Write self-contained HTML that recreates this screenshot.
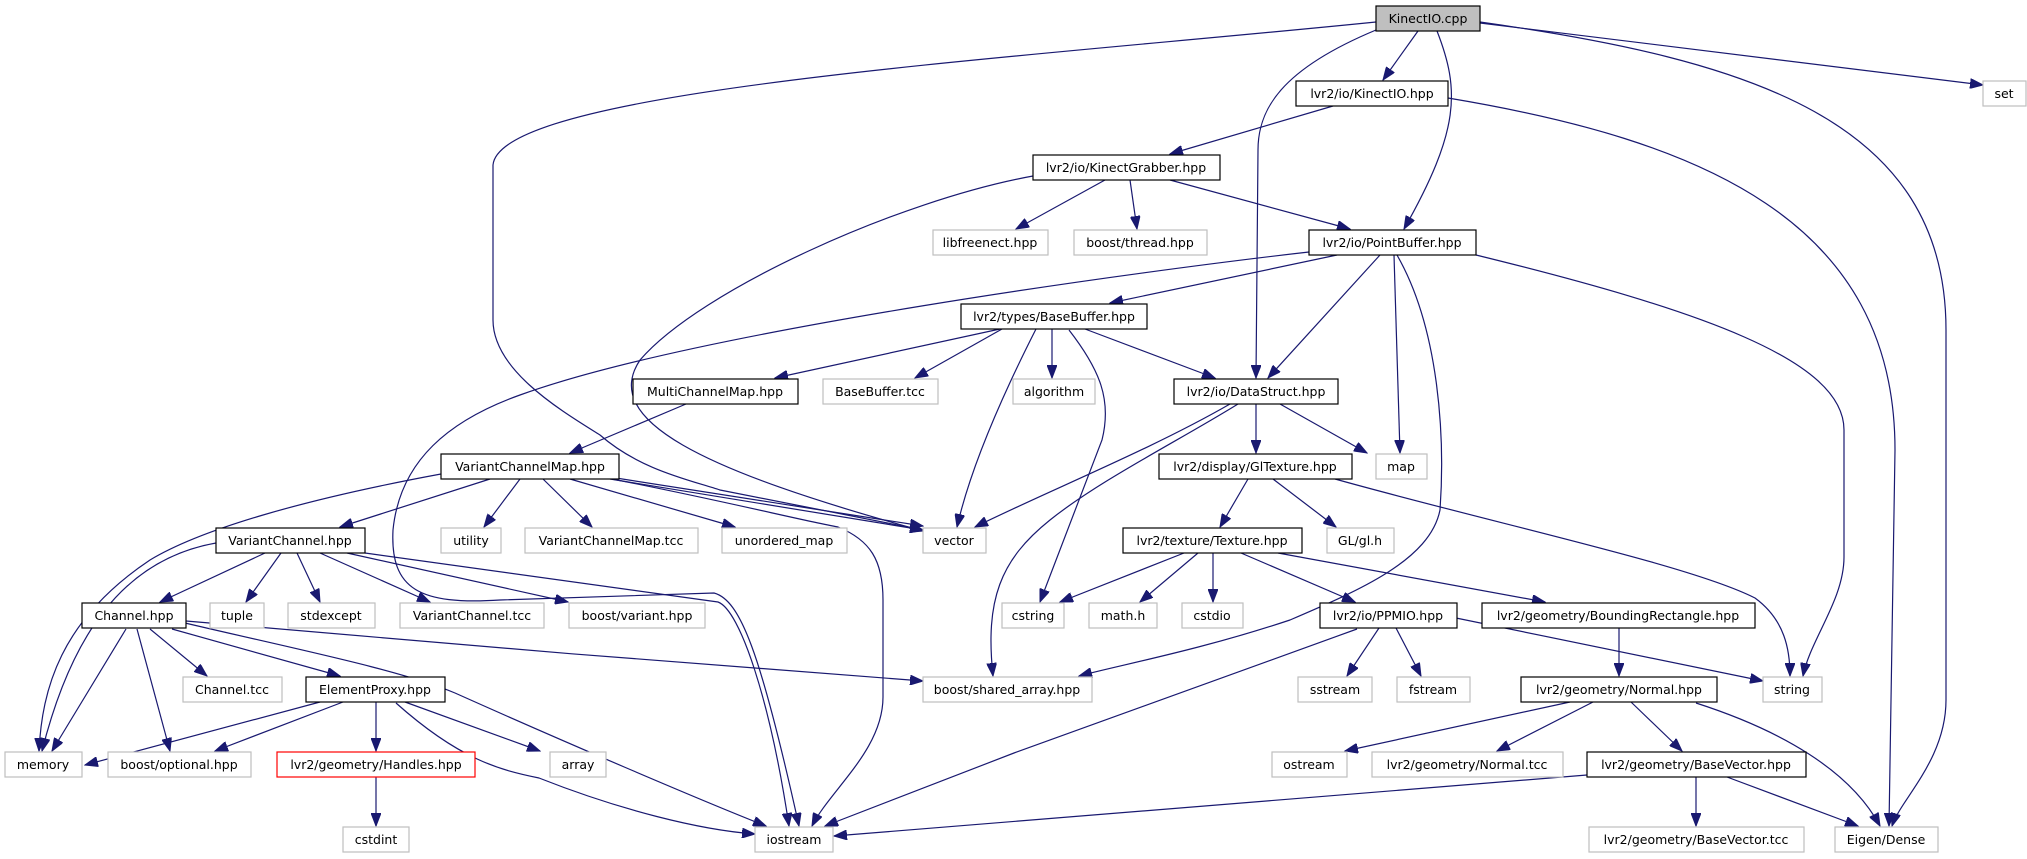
<!DOCTYPE html>
<html><head><meta charset="utf-8"><style>
html,body{margin:0;padding:0;background:#fff;}
svg{display:block;}
text{font-family:"DejaVu Sans","Liberation Sans",sans-serif;font-size:12.5px;fill:#000;text-anchor:middle;}
.n rect{fill:#fff;stroke:#000;stroke-width:1.2;}
.g rect{fill:#fff;stroke:#bfbfbf;stroke-width:1.2;}
.e path{fill:none;stroke:#191970;stroke-width:1.2;marker-end:url(#a);}
</style></head><body>
<svg width="2027" height="859" viewBox="0 0 2027 859" xmlns="http://www.w3.org/2000/svg">
<defs><marker id="a" markerUnits="userSpaceOnUse" markerWidth="14" markerHeight="10" refX="13" refY="5" orient="auto"><path d="M0,0 L13,5 L0,10 z" fill="#191970" stroke="#191970"/></marker></defs>
<g class="e">
<path d="M1376,22 C1000,60 500,90 493,165 L493,320 C493,370 560,410 600,435 C640,470 690,480 720,490 L923,530"/>
<path d="M1418,31 L1383,80"/>
<path d="M1376,30 C1280,70 1258,110 1258,150 L1256,378"/>
<path d="M1437,31 C1460,90 1460,130 1404,229"/>
<path d="M1480,23 C1700,50 1850,70 1983,85"/>
<path d="M1480,22 C1750,60 1946,120 1946,330 L1946,700 C1946,760 1900,800 1892,826"/>
<path d="M1333,106 L1170,154"/>
<path d="M1448,98 C1700,140 1895,220 1895,450 L1889,826"/>
<path d="M1105,180 L1016,229"/>
<path d="M1130,180 L1137,229"/>
<path d="M1170,180 L1350,229"/>
<path d="M1033,176 C900,200 700,290 640,360 C600,420 700,470 923,531"/>
<path d="M1337,255 L1110,303"/>
<path d="M1380,255 L1268,378"/>
<path d="M1394,255 L1400,453"/>
<path d="M1397,255 C1440,330 1445,440 1440,510 C1430,560 1360,590 1290,620 C1200,650 1120,665 1079,676"/>
<path d="M1476,255 C1700,310 1844,360 1844,430 L1844,557 C1844,600 1810,640 1803,676"/>
<path d="M1309,252 C1150,270 700,330 520,395 C450,420 400,460 393,530 C390,590 420,605 500,600 L714,593 C740,600 760,650 799,826"/>
<path d="M1000,329 L775,378"/>
<path d="M1002,329 L915,378"/>
<path d="M1052,329 L1052,378"/>
<path d="M1085,329 L1215,378"/>
<path d="M1036,329 C1000,400 970,470 957,527"/>
<path d="M1069,330 C1100,370 1112,400 1102,440 L1040,602"/>
<path d="M686,404 L570,453"/>
<path d="M1256,404 L1256,453"/>
<path d="M1280,404 L1367,453"/>
<path d="M1230,404 C1150,450 1050,490 975,527"/>
<path d="M1238,404 C1180,440 1100,480 1050,520 C1000,560 985,600 993,676"/>
<path d="M441,474 C300,500 200,530 150,560 C60,620 42,690 39,751"/>
<path d="M490,479 L340,527"/>
<path d="M520,479 L484,527"/>
<path d="M543,479 L592,527"/>
<path d="M570,479 L735,527"/>
<path d="M610,479 L923,530"/>
<path d="M616,478 L923,526"/>
<path d="M612,479 C720,500 800,520 838,527 C870,540 883,560 883,600 L883,697 C883,750 830,790 812,826"/>
<path d="M265,553 L160,602"/>
<path d="M281,553 L246,602"/>
<path d="M297,553 L320,602"/>
<path d="M320,553 L430,602"/>
<path d="M347,553 L568,602"/>
<path d="M365,553 L718,602 C740,610 770,700 789,826"/>
<path d="M216,543 C120,560 70,640 42,751"/>
<path d="M126,629 L52,751"/>
<path d="M137,629 L170,751"/>
<path d="M150,629 L207,676"/>
<path d="M172,629 L340,676"/>
<path d="M185,623 C300,650 400,670 455,693 C560,740 700,800 766,826"/>
<path d="M186,621 C400,640 700,665 923,681"/>
<path d="M320,702 L85,765"/>
<path d="M343,702 L215,751"/>
<path d="M376,702 L376,751"/>
<path d="M405,702 L540,751"/>
<path d="M396,703 C460,760 500,770 539,778 C620,810 700,830 755,834"/>
<path d="M376,777 L376,826"/>
<path d="M1248,479 L1220,527"/>
<path d="M1273,479 L1336,527"/>
<path d="M1335,479 C1500,525 1690,565 1755,598 C1785,620 1790,650 1790,676"/>
<path d="M1184,553 L1060,602"/>
<path d="M1198,553 L1140,602"/>
<path d="M1213,553 L1213,602"/>
<path d="M1241,553 L1355,602"/>
<path d="M1278,553 L1545,602"/>
<path d="M1379,628 L1347,676"/>
<path d="M1396,628 L1421,676"/>
<path d="M1456,618 L1763,681"/>
<path d="M1357,629 L1014,753 L825,826"/>
<path d="M1619,628 L1619,676"/>
<path d="M1570,702 L1345,751"/>
<path d="M1593,702 L1497,751"/>
<path d="M1631,702 L1682,751"/>
<path d="M1696,703 C1780,730 1850,770 1880,826"/>
<path d="M1696,777 L1696,826"/>
<path d="M1727,777 L1858,826"/>
<path d="M1587,775 L834,836"/>
</g>
<g class="n"><rect x="1376" y="6" width="104" height="25" style="fill:#bfbfbf"/><text x="1428" y="23">KinectIO.cpp</text></g>
<g class="n"><rect x="1296" y="81" width="152" height="25"/><text x="1372" y="98">lvr2/io/KinectIO.hpp</text></g>
<g class="g"><rect x="1983" y="81" width="43" height="25"/><text x="2004" y="98">set</text></g>
<g class="n"><rect x="1033" y="155" width="187" height="25"/><text x="1126" y="172">lvr2/io/KinectGrabber.hpp</text></g>
<g class="g"><rect x="933" y="230" width="115" height="25"/><text x="990" y="247">libfreenect.hpp</text></g>
<g class="g"><rect x="1074" y="230" width="133" height="25"/><text x="1140" y="247">boost/thread.hpp</text></g>
<g class="n"><rect x="1309" y="230" width="167" height="25"/><text x="1392" y="247">lvr2/io/PointBuffer.hpp</text></g>
<g class="n"><rect x="961" y="304" width="186" height="25"/><text x="1054" y="321">lvr2/types/BaseBuffer.hpp</text></g>
<g class="n"><rect x="633" y="379" width="165" height="25"/><text x="715" y="396">MultiChannelMap.hpp</text></g>
<g class="g"><rect x="823" y="379" width="115" height="25"/><text x="880" y="396">BaseBuffer.tcc</text></g>
<g class="g"><rect x="1013" y="379" width="82" height="25"/><text x="1054" y="396">algorithm</text></g>
<g class="n"><rect x="1174" y="379" width="164" height="25"/><text x="1256" y="396">lvr2/io/DataStruct.hpp</text></g>
<g class="n"><rect x="441" y="454" width="178" height="25"/><text x="530" y="471">VariantChannelMap.hpp</text></g>
<g class="n"><rect x="1159" y="454" width="193" height="25"/><text x="1255" y="471">lvr2/display/GlTexture.hpp</text></g>
<g class="g"><rect x="1376" y="454" width="51" height="25"/><text x="1401" y="471">map</text></g>
<g class="n"><rect x="216" y="528" width="149" height="25"/><text x="290" y="545">VariantChannel.hpp</text></g>
<g class="g"><rect x="441" y="528" width="60" height="25"/><text x="471" y="545">utility</text></g>
<g class="g"><rect x="525" y="528" width="173" height="25"/><text x="611" y="545">VariantChannelMap.tcc</text></g>
<g class="g"><rect x="722" y="528" width="125" height="25"/><text x="784" y="545">unordered_map</text></g>
<g class="g"><rect x="923" y="528" width="63" height="25"/><text x="954" y="545">vector</text></g>
<g class="n"><rect x="1123" y="528" width="179" height="25"/><text x="1212" y="545">lvr2/texture/Texture.hpp</text></g>
<g class="g"><rect x="1327" y="528" width="67" height="25"/><text x="1360" y="545">GL/gl.h</text></g>
<g class="n"><rect x="82" y="603" width="104" height="25"/><text x="134" y="620">Channel.hpp</text></g>
<g class="g"><rect x="210" y="603" width="54" height="25"/><text x="237" y="620">tuple</text></g>
<g class="g"><rect x="288" y="603" width="87" height="25"/><text x="331" y="620">stdexcept</text></g>
<g class="g"><rect x="400" y="603" width="144" height="25"/><text x="472" y="620">VariantChannel.tcc</text></g>
<g class="g"><rect x="569" y="603" width="136" height="25"/><text x="637" y="620">boost/variant.hpp</text></g>
<g class="g"><rect x="1002" y="603" width="62" height="25"/><text x="1033" y="620">cstring</text></g>
<g class="g"><rect x="1089" y="603" width="68" height="25"/><text x="1123" y="620">math.h</text></g>
<g class="g"><rect x="1182" y="603" width="61" height="25"/><text x="1212" y="620">cstdio</text></g>
<g class="n"><rect x="1320" y="603" width="137" height="25"/><text x="1388" y="620">lvr2/io/PPMIO.hpp</text></g>
<g class="n"><rect x="1482" y="603" width="273" height="25"/><text x="1618" y="620">lvr2/geometry/BoundingRectangle.hpp</text></g>
<g class="g"><rect x="183" y="677" width="99" height="25"/><text x="232" y="694">Channel.tcc</text></g>
<g class="n"><rect x="306" y="677" width="139" height="25"/><text x="375" y="694">ElementProxy.hpp</text></g>
<g class="g"><rect x="923" y="677" width="169" height="25"/><text x="1007" y="694">boost/shared_array.hpp</text></g>
<g class="g"><rect x="1298" y="677" width="74" height="25"/><text x="1335" y="694">sstream</text></g>
<g class="g"><rect x="1397" y="677" width="73" height="25"/><text x="1433" y="694">fstream</text></g>
<g class="n"><rect x="1521" y="677" width="196" height="25"/><text x="1619" y="694">lvr2/geometry/Normal.hpp</text></g>
<g class="g"><rect x="1763" y="677" width="59" height="25"/><text x="1792" y="694">string</text></g>
<g class="g"><rect x="5" y="752" width="77" height="25"/><text x="43" y="769">memory</text></g>
<g class="g"><rect x="108" y="752" width="143" height="25"/><text x="179" y="769">boost/optional.hpp</text></g>
<g class="n"><rect x="277" y="752" width="198" height="25" style="stroke:#ff0000"/><text x="376" y="769">lvr2/geometry/Handles.hpp</text></g>
<g class="g"><rect x="550" y="752" width="56" height="25"/><text x="578" y="769">array</text></g>
<g class="g"><rect x="1272" y="752" width="75" height="25"/><text x="1309" y="769">ostream</text></g>
<g class="g"><rect x="1372" y="752" width="191" height="25"/><text x="1467" y="769">lvr2/geometry/Normal.tcc</text></g>
<g class="n"><rect x="1587" y="752" width="219" height="25"/><text x="1696" y="769">lvr2/geometry/BaseVector.hpp</text></g>
<g class="g"><rect x="343" y="827" width="66" height="25"/><text x="376" y="844">cstdint</text></g>
<g class="g"><rect x="755" y="827" width="78" height="25"/><text x="794" y="844">iostream</text></g>
<g class="g"><rect x="1589" y="827" width="215" height="25"/><text x="1696" y="844">lvr2/geometry/BaseVector.tcc</text></g>
<g class="g"><rect x="1835" y="827" width="103" height="25"/><text x="1886" y="844">Eigen/Dense</text></g>
</svg>
</body></html>
